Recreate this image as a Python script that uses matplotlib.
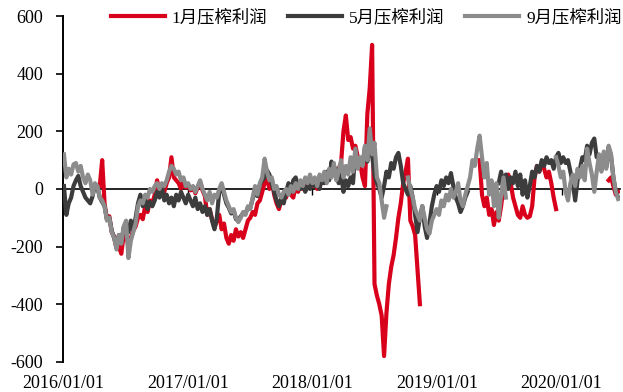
import numpy as np
import pandas as pd
import matplotlib
matplotlib.use("Agg")
import matplotlib.pyplot as plt

plt.rcParams['font.family'] = ['Liberation Serif', 'Noto Sans CJK SC']
plt.rcParams['font.size'] = 13
plt.rcParams['axes.unicode_minus'] = False

nan = np.nan

# weekly crush margin, yuan/ton
dates = pd.date_range('2016-01-04', periods=233, freq='7D')

margin_jan = [
    nan, nan, nan, nan, nan, nan, nan, nan, nan, nan,
    nan, nan, nan, nan, nan, 10, 100, -50, -105, -95,
    -150, -165, -205, -200, -225, -160, -160, -200, -170, -145,
    -130, -100, -90, -105, -60, -80, -40, -50, -20, 30,
    -10, 15, -10, 20, 40, 110, 40, 30, 20, 0,
    35, 5, 15, -5, 5, -15, 5, 25, -5, -25,
    -90, -70, -105, -135, -110, -90, -140, -120, -170, -190,
    -160, -180, -140, -165, -150, -170, -140, -110, -100, -80,
    -90, -50, -40, -10, 20, 40, 0, 30, -20, -50,
    -70, -40, -20, -30, 0, -20, -30, 10, -10, 20,
    0, 20, 10, 30, 10, 30, 0, 40, 20, 50,
    30, 60, 50, 80, 40, 70, 90, 200, 255, 170,
    180, 140, 150, 110, 90, 40, 10, 260, 350, 500,
    -330, -370, -400, -440, -580, -430, -330, -270, -230, -170,
    -100, -50, 20, 60, 105, -110, -130, -160, -280, -400,
    nan, nan, nan, nan, nan, nan, nan, nan, nan, nan,
    nan, nan, nan, nan, nan, nan, nan, nan, nan, nan,
    nan, nan, nan, nan, 100, -20, -60, -30, -90, -70,
    -125, -80, -110, -60, 10, 30, 50, 20, -30, -60,
    -90, -100, -60, -90, -100, -95, -60, 40, 80, 60,
    90, 70, 40, 60, 20, -30, -70, nan, nan, nan,
    nan, nan, nan, nan, nan, nan, nan, nan, nan, nan,
    nan, nan, nan, nan, nan, nan, nan, nan, 30, 40,
    10, -20, -10,
]

margin_may = [
    10, -90, -50, -30, 10, 30, 45, 10, -10, -30,
    -40, -50, -25, 15, 5, -30, -45, -60, -105, -100,
    -145, -170, -200, -160, -185, -135, -120, -150, -110, -140,
    -100, -50, -20, -60, -30, -70, -45, -60, -40, -10,
    -30, 10, -40, -20, -50, -30, -60, -20, -40, -10,
    -30, -50, -20, -40, -60, -30, -70, -50, -80, -60,
    -90, -70, -110, -140, -100, -10, 10, -20, -50, -65,
    -85, -75, -105, -110, -95, -85, -85, -65, -65, -35,
    0, -25, 15, 30, 40, 65, 50, 20, -10, -40,
    -60, -30, -50, -10, 20, -10, 30, 40, 10, 0,
    20, -10, 10, 0, 30, 10, 20, 0, 40, 20,
    60, 30, 95, 50, 70, 20, 50, -10, 30, 10,
    40, 20, 135, 75, 105, 85, 145, 95, 200, 115,
    50, 20, 0, -30, 10, 60, 40, 90, 70, 110,
    125, 80, 20, 0, -20, 10, -30, -90, -150, -100,
    -60, -130, -170, -120, -60, -20, 10, -10, 30, 10,
    40, 20, 55, 10, -30, -50, -80, -60, -30, -10,
    nan, nan, nan, nan, nan, nan, nan, nan, nan, nan,
    nan, nan, 20, 60, 10, 50, 0, 40, 20, 60,
    10, 50, -20, 30, -30, 10, 60, 40, 80, 60,
    100, 80, 110, 90, 100, 70, 110, 125, 90, 110,
    90, 100, 60, 20, -40, 30, 70, 110, 100, 150,
    120, 160, 175, 110, 115, 65, 125, 75, 145, 115,
    40, -10, -30,
]

margin_sep = [
    120, 40, 70, 50, 85, 90, 60, 80, 40, 20,
    50, 30, -20, 20, 10, -30, -40, -60, -110, -100,
    -150, -170, -210, -160, -190, -130, -110, -240, -180, -150,
    -120, -60, -40, -50, -20, -30, 0, -10, 10, 20,
    0, 20, 10, 30, 60, 80, 70, 50, 60, 30,
    40, 10, 20, 0, 10, -10, 10, 30, 0, -20,
    -40, -10, -50, -20, -30, 0, 20, -10, -40, -60,
    -80, -70, -100, -115, -100, -80, -90, -60, -70, -30,
    10, -20, 20, 40, 105, 60, 30, 40, 0, 10,
    -20, -30, -10, 0, -20, 10, -10, 20, 0, 30,
    10, 40, 20, 50, 20, 40, 10, 50, 30, 60,
    20, 70, 40, 90, 30, 60, 100, 40, 80, 50,
    110, 60, 140, 70, 110, 80, 150, 100, 210, 120,
    160, 40, 20, -40, -100, -60, nan, nan, nan, nan,
    nan, nan, nan, nan, 40, 0, -30, -70, -90, -110,
    -60, -100, -140, -155, -110, -90, -70, -90, -40, -60,
    -20, -40, 0, -30, -10, 20, -40, -60, -20, 10,
    40, 100, 80, 140, 185, 110, 40, 90, -20, 30,
    -60, 20, -100, -20, 40, -30, nan, nan, nan, nan,
    nan, nan, nan, nan, nan, nan, nan, nan, nan, nan,
    nan, nan, nan, nan, nan, nan, 110, 80, 40, 60,
    -10, -40, 20, 50, 10, 70, 40, 80, 30, 140,
    90, 50, -10, 60, 120, 60, 130, 70, 150, 120,
    40, -10, -35,
]

series_names = ['1月压榨利润', '5月压榨利润', '9月压榨利润']
series_colors = ['#D9001B', '#3C3C3C', '#8C8C8C']
year_ticks = pd.to_datetime(['2016-01-01', '2017-01-01', '2018-01-01',
                             '2019-01-01', '2020-01-01'])
year_labels = ['2016/01/01', '2017/01/01', '2018/01/01', '2019/01/01', '2020/01/01']

fig = plt.figure(figsize=(6.23, 3.92), dpi=100)
ax = fig.add_axes([0.101, 0.077, 0.894, 0.882])

for vals, name, col in zip([margin_jan, margin_may, margin_sep], series_names, series_colors):
    ax.plot(dates, vals, color=col, lw=3.0, label=name, zorder=3)

ax.set_ylim(-600, 600)
ax.set_yticks(range(-600, 601, 200))
ax.set_xlim(pd.Timestamp('2016-01-01'), pd.Timestamp('2020-06-20'))
ax.set_xticks(year_ticks)
ax.set_xticklabels(year_labels)

# x axis sits on the zero line, labels pushed down to the bottom
ax.spines['bottom'].set_position(('data', 0))
ax.spines['bottom'].set_linewidth(1.2)
ax.spines['left'].set_linewidth(1.4)
ax.spines['top'].set_visible(False)
ax.spines['right'].set_visible(False)
ax.tick_params(axis='x', direction='out', length=4, width=1, pad=130)
ax.tick_params(axis='y', direction='out', length=5, width=1.2, pad=9)

ax.legend(loc='center', bbox_to_anchor=(0.545, 0.995), ncol=3, frameon=False,
          handlelength=3.1, handletextpad=0.4, columnspacing=1.2, borderaxespad=0,
          fontsize=12.5)

fig.savefig('out.png', dpi=100)
